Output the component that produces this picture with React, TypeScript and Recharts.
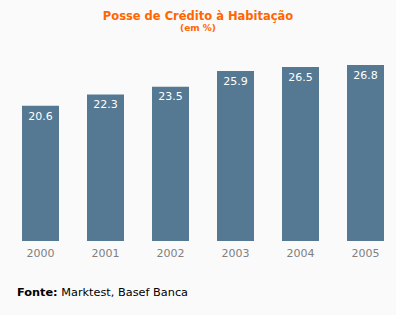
import { Bar, BarChart, LabelList, XAxis, YAxis } from "recharts";

const years = ["2000", "2001", "2002", "2003", "2004", "2005"];
const posse = [20.6, 22.3, 23.5, 25.9, 26.5, 26.8];

const data = years.map((year, i) => ({ year, value: posse[i] }));

const font = "'DejaVu Sans', Verdana, sans-serif";

export default function App() {
  return (
    <div
      style={{
        position: "absolute",
        left: 0,
        top: 0,
        width: 396,
        height: 315,
        overflow: "hidden",
        background: "#fafafa",
        fontFamily: font,
      }}
    >
      <div
        style={{
          position: "absolute",
          top: 9,
          width: 396,
          textAlign: "center",
          color: "#ff6600",
          fontWeight: "bold",
          fontSize: 11.5,
        }}
      >
        Posse de Crédito à Habitação
      </div>
      <div
        style={{
          position: "absolute",
          top: 23,
          width: 396,
          textAlign: "center",
          color: "#ff6600",
          fontWeight: "bold",
          fontSize: 9,
        }}
      >
        (em %)
      </div>
      <BarChart
        width={398}
        height={315}
        data={data}
        margin={{ top: 44, right: 0, bottom: 44, left: 8 }}
      >
        <XAxis
          dataKey="year"
          height={30}
          axisLine={false}
          tickLine={false}
          tickSize={0}
          tickMargin={8}
          tick={{ fill: "#808080", fontSize: 11, fontFamily: font }}
        />
        <YAxis hide domain={[0, 30]} />
        <Bar dataKey="value" fill="#557993" barSize={37} isAnimationActive={false}>
          <LabelList
            dataKey="value"
            position="insideTop"
            offset={6}
            fill="#ffffff"
            fontSize={11}
            fontFamily={font}
          />
        </Bar>
      </BarChart>
      <div
        style={{
          position: "absolute",
          left: 17,
          top: 286,
          fontSize: 11.3,
          color: "#000",
        }}
      >
        <b>Fonte:</b> Marktest, Basef Banca
      </div>
    </div>
  );
}
